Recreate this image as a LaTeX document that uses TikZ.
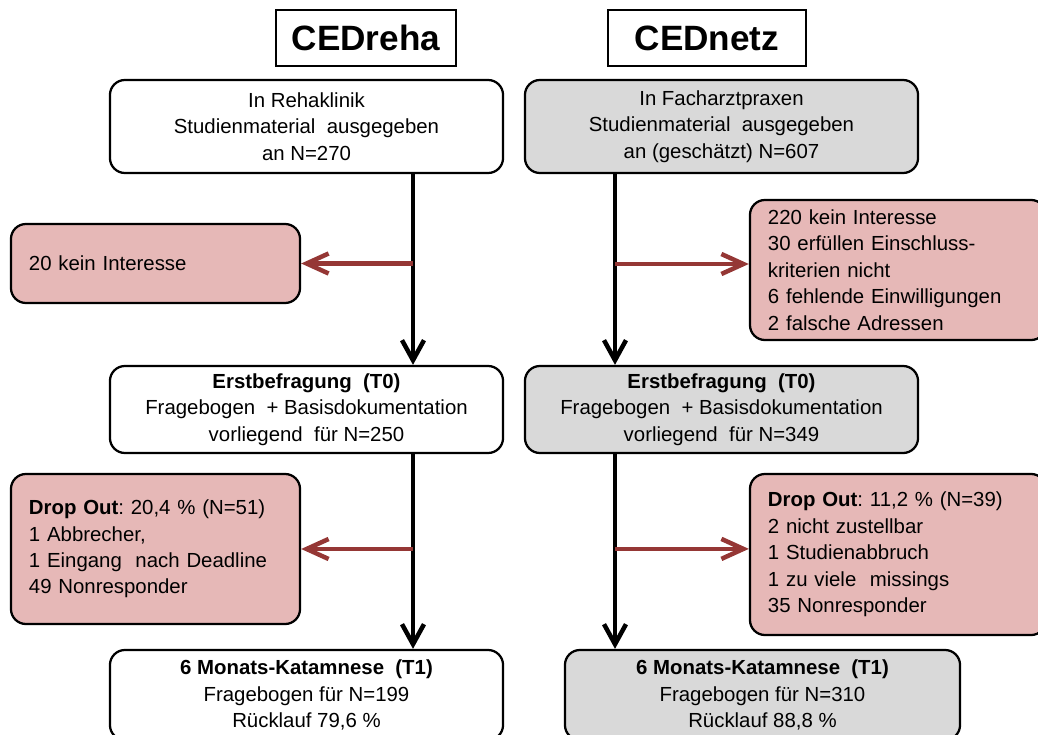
\documentclass[tikz,border=0pt]{standalone}
\usepackage{fontspec}
\setmainfont{Liberation Sans}
\usetikzlibrary{arrows.meta}
\definecolor{boxgrey}{HTML}{D9D9D9}
\definecolor{droppink}{HTML}{E6B8B7}
\definecolor{droparrow}{HTML}{953735}
\frenchspacing
\begin{document}
\begin{tikzpicture}[x=0.025cm, y=-0.025cm,
  font=\fontsize{14.5}{18.8}\selectfont,
  title/.style={draw, line width=1pt, minimum height=1.4cm, inner sep=0pt,
    font=\fontsize{25}{30}\selectfont\bfseries},
  stage/.style={draw, line width=1.6pt, rounded corners=0.375cm, align=center,
    minimum width=9.825cm, inner sep=0pt},
  drop/.style={draw, line width=1.6pt, rounded corners=0.375cm, fill=droppink,
    align=left, inner xsep=0.45cm, inner ysep=0pt},
  flow/.style={line width=3.2pt, -{Straight Barb[length=0.5cm,width=0.55cm]}},
  loss/.style={line width=3.2pt, droparrow, -{Straight Barb[length=0.55cm,width=0.5cm]}}]
  \clip (0,0) rectangle (1038,735);

  \node (treha) [title, minimum width=4.5cm] at (366,38) {CEDreha};
  \node (tnetz) [title, minimum width=4.95cm] at (707,38) {CEDnetz};

  \node (ausgR) [stage, minimum height=2.325cm] at (306.5,126.5)
    {In Rehaklinik\\Studienmaterial \ ausgegeben\\an N=270};
  \node (ausgN) [stage, fill=boxgrey, minimum height=2.325cm] at (721.5,126.5)
    {In Facharztpraxen\\Studienmaterial \ ausgegeben\\an (geschätzt) N=607};

  \node (exR) [drop, text width=6.325cm, minimum height=1.975cm] at (155.5,263.5)
    {20 kein Interesse};
  \node (exN) [drop, text width=6.5cm, minimum height=3.5cm] at (898,270)
    {220 kein Interesse\\30 erfüllen Einschluss-\\kriterien nicht\\6 fehlende Einwilligungen\\2 falsche Adressen};

  \node (tnullR) [stage, minimum height=2.175cm] at (306.5,409.5)
    {\textbf{Erstbefragung \ (T0)}\\Fragebogen \ + Basisdokumentation\\vorliegend \ für N=250};
  \node (tnullN) [stage, fill=boxgrey, minimum height=2.175cm] at (721.5,409.5)
    {\textbf{Erstbefragung \ (T0)}\\Fragebogen \ + Basisdokumentation\\vorliegend \ für N=349};

  \node (dropR) [drop, text width=6.325cm, minimum height=3.75cm] at (155.5,549)
    {\textbf{Drop Out}: 20,4 \% (N=51)\\1 Abbrecher,\\1 Eingang \ nach Deadline\\49 Nonresponder};
  \node (dropN) [drop, text width=6.5cm, minimum height=4.025cm] at (898,554.5)
    {\textbf{Drop Out}: 11,2 \% (N=39)\\2 nicht zustellbar\\1 Studienabbruch\\1 zu viele \ missings\\35 Nonresponder};

  \node (teinsR) [stage, minimum height=2.25cm] at (306.5,695)
    {\textbf{6 Monats-Katamnese \ (T1)}\\Fragebogen für N=199\\Rücklauf 79,6 \%};
  \node (teinsN) [stage, fill=boxgrey, minimum width=9.875cm, minimum height=2.25cm] at (762.5,695)
    {\textbf{6 Monats-Katamnese \ (T1)}\\Fragebogen für N=310\\Rücklauf 88,8 \%};

  \coordinate (lcol) at (413,0);
  \coordinate (rcol) at (615,0);
  \coordinate (exNin) at ([yshift=0.15cm]exN.west);
  \coordinate (dropNin) at ([yshift=0.14cm]dropN.west);

  \draw[flow] (lcol |- ausgR.south) -- (lcol |- tnullR.north);
  \draw[flow] (rcol |- ausgN.south) -- (rcol |- tnullN.north);
  \draw[flow] (lcol |- tnullR.south) -- (lcol |- teinsR.north);
  \draw[flow] (rcol |- tnullN.south) -- (rcol |- teinsN.north);

  \draw[loss] (lcol |- exR.east) -- (exR.east);
  \draw[loss] (rcol |- exNin) -- (exNin);
  \draw[loss] (lcol |- dropR.east) -- (dropR.east);
  \draw[loss] (rcol |- dropNin) -- (dropNin);
\end{tikzpicture}
\end{document}
